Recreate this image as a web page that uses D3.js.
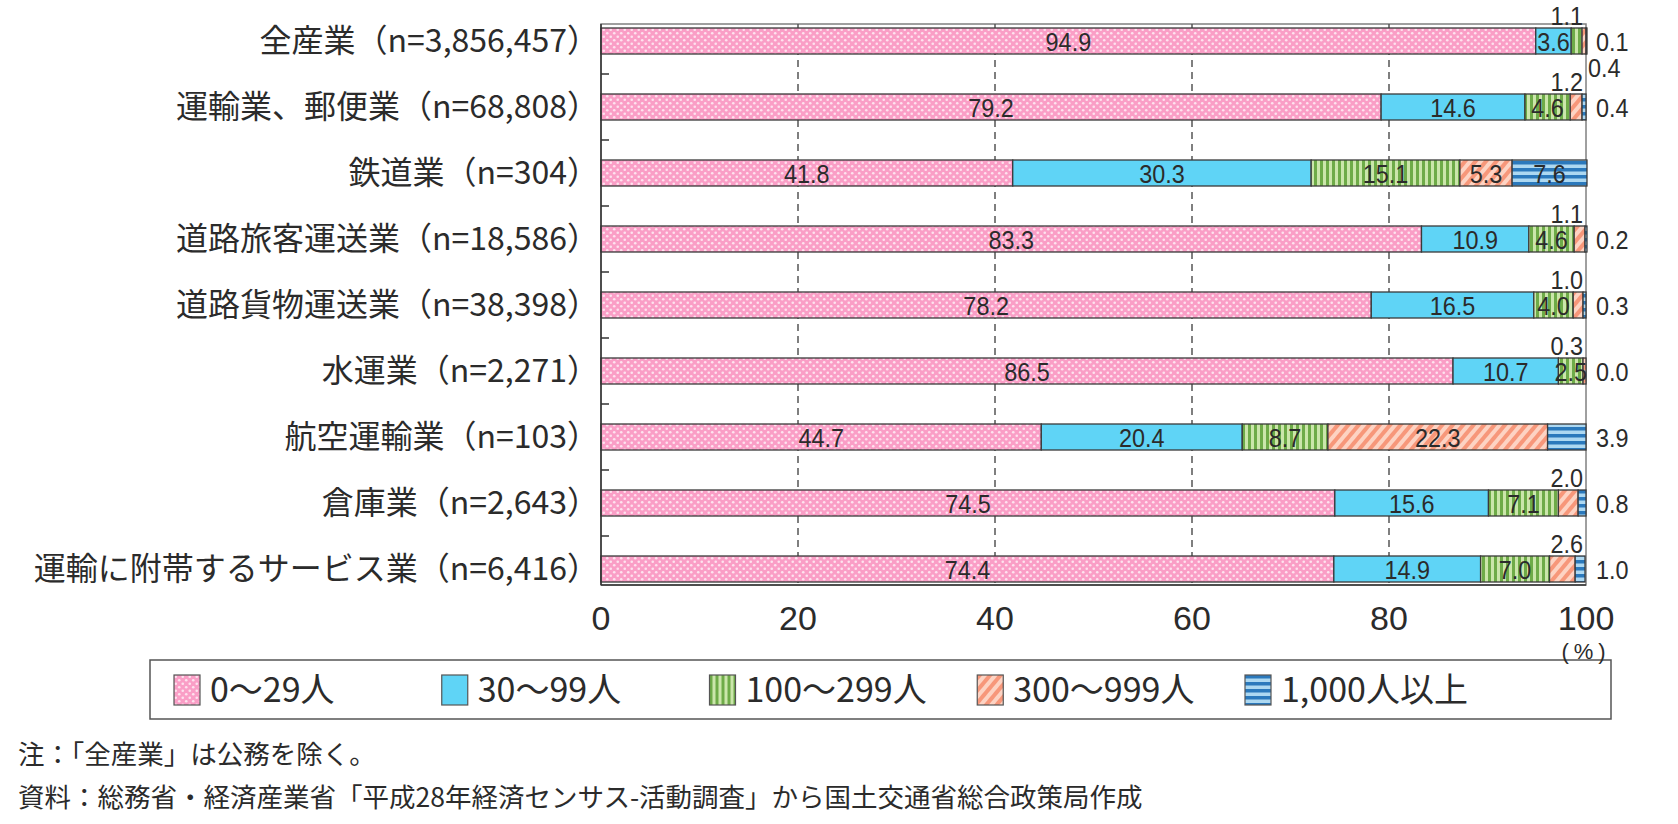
<!DOCTYPE html>
<html><head><meta charset="utf-8">
<script src="https://cdn.jsdelivr.net/npm/d3@7/dist/d3.min.js"></script>
<style>
body{margin:0;background:#fff;}
svg{display:block;}
</style></head>
<body>
<svg id="chart" width="1678" height="824"></svg>
<script>
const categories = [
  "全産業（n=3,856,457）",
  "運輸業、郵便業（n=68,808）",
  "鉄道業（n=304）",
  "道路旅客運送業（n=18,586）",
  "道路貨物運送業（n=38,398）",
  "水運業（n=2,271）",
  "航空運輸業（n=103）",
  "倉庫業（n=2,643）",
  "運輸に附帯するサービス業（n=6,416）"
];
const seriesNames = ["0〜29人", "30〜99人", "100〜299人", "300〜999人", "1,000人以上"];
const s0_29    = [94.9, 79.2, 41.8, 83.3, 78.2, 86.5, 44.7, 74.5, 74.4];
const s30_99   = [3.6, 14.6, 30.3, 10.9, 16.5, 10.7, 20.4, 15.6, 14.9];
const s100_299 = [1.1, 4.6, 15.1, 4.6, 4.0, 2.5, 8.7, 7.1, 7.0];
const s300_999 = [0.4, 1.2, 5.3, 1.1, 1.0, 0.3, 22.3, 2.0, 2.6];
const s1000    = [0.1, 0.4, 7.6, 0.2, 0.3, 0.0, 3.9, 0.8, 1.0];
const xTicks = [0, 20, 40, 60, 80, 100];
const noteLines = [
  "注：「全産業」は公務を除く。",
  "資料：総務省・経済産業省「平成28年経済センサス-活動調査」から国土交通省総合政策局作成"
];

const seriesValues = [s0_29, s30_99, s100_299, s300_999, s1000];
const patternIds = ["pPink", "pCyan", "pGreen", "pOrange", "pBlue"];
const minInside = [0, 0, 2, 3, 5];

const svg = d3.select("#chart");
const jp = "'Noto Sans CJK JP','Noto Sans',sans-serif";
const num = "'Liberation Sans',Arial,sans-serif";
const txt = "#2b2b2b";

// patterns
const defs = svg.append("defs");
{
  const p = defs.append("pattern").attr("id", "pPink").attr("patternUnits", "userSpaceOnUse").attr("width", 7).attr("height", 7);
  p.append("rect").attr("width", 7).attr("height", 7).attr("fill", "#fa9ec6");
  p.append("circle").attr("cx", 1.75).attr("cy", 1.75).attr("r", 1.3).attr("fill", "#fff").attr("opacity", 0.7);
  p.append("circle").attr("cx", 5.25).attr("cy", 5.25).attr("r", 1.3).attr("fill", "#fff").attr("opacity", 0.7);
}
{
  const p = defs.append("pattern").attr("id", "pCyan").attr("patternUnits", "userSpaceOnUse").attr("width", 8).attr("height", 8);
  p.append("rect").attr("width", 8).attr("height", 8).attr("fill", "#5fd4f6");
}
{
  const p = defs.append("pattern").attr("id", "pGreen").attr("patternUnits", "userSpaceOnUse").attr("width", 6).attr("height", 6);
  p.append("rect").attr("width", 6).attr("height", 6).attr("fill", "#cbe6ab");
  p.append("rect").attr("x", 0).attr("width", 3).attr("height", 6).attr("fill", "#6eab48");
}
{
  const p = defs.append("pattern").attr("id", "pOrange").attr("patternUnits", "userSpaceOnUse").attr("width", 8).attr("height", 8).attr("patternTransform", "rotate(40)");
  p.append("rect").attr("width", 8).attr("height", 8).attr("fill", "#fdd3c3");
  p.append("rect").attr("width", 4).attr("height", 8).attr("fill", "#f7977a");
}
{
  const p = defs.append("pattern").attr("id", "pBlue").attr("patternUnits", "userSpaceOnUse").attr("width", 7).attr("height", 7);
  p.append("rect").attr("width", 7).attr("height", 7).attr("fill", "#add8f1");
  p.append("rect").attr("y", 0).attr("width", 7).attr("height", 3.5).attr("fill", "#2b79bc");
}

const x = d3.scaleLinear().domain([0, 100]).range([601, 1586]);
const y = d3.scaleBand().domain(categories).range([28, 582]).paddingInner(40 / 66).paddingOuter(0);
const bw = y.bandwidth();
const gap = y.step() - bw;

// frame
const frameTop = 24, frameBottom = 585;
svg.append("rect").attr("x", x(0)).attr("y", frameTop).attr("width", x(100) - x(0)).attr("height", frameBottom - frameTop)
  .attr("fill", "none").attr("stroke", "#808080").attr("stroke-width", 1.5);

// gridlines
svg.append("g").selectAll("line").data(xTicks.filter(d => d > 0 && d < 100)).join("line")
  .attr("x1", d => x(d)).attr("x2", d => x(d)).attr("y1", frameTop).attr("y2", frameBottom)
  .attr("stroke", "#555").attr("stroke-width", 1.5).attr("stroke-dasharray", "7,5");

// stacked data
const stackData = categories.map((c, i) => {
  let acc = 0;
  return seriesValues.map((s, k) => {
    const v = s[i];
    const o = { cat: c, row: i, k: k, v: v, x0: acc, x1: acc + v };
    acc += v;
    return o;
  });
});
const segs = stackData.flat();

svg.append("g").selectAll("rect").data(segs.filter(d => d.v > 0)).join("rect")
  .attr("x", d => x(d.x0)).attr("y", d => y(d.cat))
  .attr("width", d => Math.max(0, x(d.x1) - x(d.x0))).attr("height", bw)
  .attr("fill", d => `url(#${patternIds[d.k]})`)
  .attr("stroke", "#3a3a3a").attr("stroke-width", 1.3);

// left axis
svg.append("line").attr("x1", x(0)).attr("x2", x(0)).attr("y1", frameTop).attr("y2", frameBottom).attr("stroke", "#333").attr("stroke-width", 1.5);
svg.append("g").selectAll("line").data(categories.slice(1)).join("line")
  .attr("x1", x(0)).attr("x2", x(0) + 8).attr("y1", d => y(d) - gap / 2).attr("y2", d => y(d) - gap / 2)
  .attr("stroke", "#333").attr("stroke-width", 1.5);
svg.append("line").attr("x1", x(0)).attr("x2", x(100)).attr("y1", frameBottom).attr("y2", frameBottom).attr("stroke", "#333").attr("stroke-width", 1.5);

// category labels
svg.append("g").selectAll("text").data(categories).join("text")
  .attr("x", x(0) - 2).attr("y", d => y(d) + bw / 2 + 11)
  .attr("text-anchor", "end").attr("font-family", jp).attr("font-size", 32).attr("fill", txt)
  .text(d => d);

// x tick labels
svg.append("g").selectAll("text").data(xTicks).join("text")
  .attr("x", d => x(d)).attr("y", 630).attr("text-anchor", "middle")
  .attr("font-family", num).attr("font-size", 34).attr("fill", txt).text(d => d);

// value labels (slightly condensed)
const fmt = d3.format(".1f");
const lab = svg.append("g").attr("font-family", num).attr("font-size", 26).attr("fill", txt);
function addLabel(px, py, anchor, v) {
  lab.append("text").attr("transform", `translate(${px},${py}) scale(0.9,1)`)
    .attr("text-anchor", anchor).text(fmt(v));
}
stackData.forEach(row => {
  let aboveCount = 0;
  row.forEach(d => {
    const cy = y(d.cat) + bw / 2;
    if (d.k === 4 && d.v < minInside[4]) {
      addLabel(x(100) + 10, cy + 10, "start", d.v);
    } else if (d.v < minInside[d.k]) {
      if (aboveCount === 0) {
        addLabel(x(100) - 3, y(d.cat) - 3, "end", d.v);
      } else {
        addLabel(x(100) + 2, y(d.cat) + bw + 23, "start", d.v);
      }
      aboveCount++;
    } else {
      addLabel((x(d.x0) + x(d.x1)) / 2, cy + 10, "middle", d.v);
    }
  });
});

// legend
const lg = svg.append("g");
lg.append("rect").attr("x", 150).attr("y", 660).attr("width", 1461).attr("height", 59)
  .attr("fill", "#fff").attr("stroke", "#555").attr("stroke-width", 1.5);
const legendX = d3.scalePoint().domain(seriesNames).range([174, 1245]);
const li = lg.selectAll("g.item").data(seriesNames).join("g").attr("class", "item")
  .attr("transform", d => `translate(${legendX(d)},675)`);
li.append("rect").attr("width", 26).attr("height", 30)
  .attr("fill", (d, i) => `url(#${patternIds[i]})`).attr("stroke", "#555").attr("stroke-width", 1.2);
li.append("text").attr("x", 36).attr("y", 27).attr("font-family", jp).attr("font-size", 34).attr("fill", txt).text(d => d);

// unit label
svg.append("text").attr("x", x(100)).attr("y", 659).attr("text-anchor", "middle")
  .attr("font-family", num).attr("font-size", 22).attr("letter-spacing", 5).attr("fill", txt).text("(%)");

// notes
svg.append("g").selectAll("text").data(noteLines).join("text")
  .attr("x", 18).attr("y", (d, i) => 764 + i * 43)
  .attr("font-family", jp).attr("font-size", 26.5).attr("fill", txt).text(d => d);
</script>
</body></html>
